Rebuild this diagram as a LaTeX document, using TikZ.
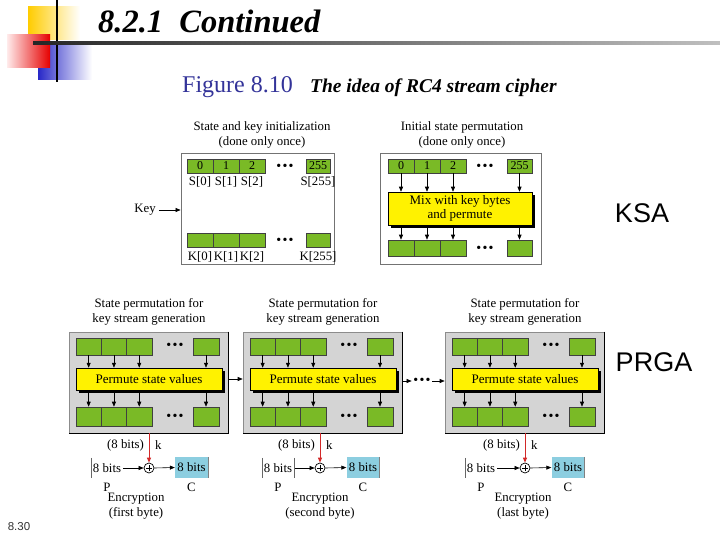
\documentclass[tikz,border=0pt]{standalone}
\usepackage{fontspec}
\setmainfont{Liberation Serif}
\newfontfamily\arialf{Liberation Sans}
\usetikzlibrary{arrows.meta,shadows,calc}
\definecolor{cellgreen}{RGB}{122,186,38}
\definecolor{boxgray}{RGB}{212,212,212}
\definecolor{cblue}{RGB}{140,206,224}
\definecolor{navyc}{RGB}{51,51,153}
\definecolor{keyred}{RGB}{210,40,40}
\definecolor{goldc}{RGB}{255,204,0}
\definecolor{logoblue}{RGB}{40,40,200}
\newcommand\tridots{\textbullet\hspace{1.3pt}\textbullet\hspace{1.3pt}\textbullet}
\begin{document}
\begin{tikzpicture}[x=1pt,y=-1pt,
  txt/.style={font=\fontsize{12.8}{14.5}\selectfont, align=center, inner sep=0pt},
  cell/.style={draw=black!75, line width=0.6pt, fill=cellgreen, inner sep=0pt, font=\fontsize{12}{12}\selectfont},
  mixbox/.style={draw=black, line width=0.5pt, fill=yellow, drop shadow={shadow xshift=3pt,shadow yshift=-3pt,fill=black,opacity=1}, align=center, inner sep=0pt, font=\fontsize{13}{14}\selectfont},
  arr/.style={-{Triangle[length=5pt,width=4pt]}, line width=0.6pt},
  dotsn/.style={inner sep=1.5pt, font=\fontsize{14}{14}\selectfont},
  pbox/.style={draw=black!45, line width=0.6pt, fill=boxgray, minimum width=159pt, minimum height=101pt, inner sep=0pt},
  kbox/.style={draw=black!55, line width=0.8pt, fill=white, inner sep=0pt}
]
\useasboundingbox (0,0) rectangle (720,540);
\fill[white] (0,0) rectangle (720,540);

% logo
\shade[left color=goldc, middle color=goldc!80!white, right color=white] (28,7) rectangle (80,40);
\shade[left color=logoblue, middle color=logoblue!75!white, right color=white] (38,43) rectangle (92,80);
\shade[left color=red!8, right color=red!90!black] (7,35) rectangle (50,68);
\draw[line width=2.5pt] (57,0) -- (57,82);
\shade[left color=black!85, right color=black!25] (33,41.8) rectangle (720,44.2);

% titles
\node[anchor=base west, inner sep=0pt, font=\fontsize{32.5}{32}\selectfont\bfseries\itshape] (ttl) at (98,33) {8.2.1\enspace Continued};
\node[anchor=base west, inner sep=0pt, font=\fontsize{24}{24}\selectfont, text=navyc] (fig) at (182,93) {Figure 8.10};
\node[anchor=base west, inner sep=0pt, font=\fontsize{19.5}{20}\selectfont\bfseries\itshape] (cap) at (310,93) {The idea of RC4 stream cipher};

% KSA box 1
\node[txt] (t1) at (262,135) {State and key initialization\\(done only once)};
\node[kbox, minimum width=153pt, minimum height=111pt] (ksa1) at (257.5,208.5) {};
\node[cell, minimum width=26pt, minimum height=14pt] (s0) at (200,166) {0};
\node[cell, minimum width=26pt, minimum height=14pt] (s1) at (226,166) {1};
\node[cell, minimum width=26pt, minimum height=14pt] (s2) at (252,166) {2};
\node[dotsn] (sd) at (285,167) {\tridots};
\node[cell, minimum width=24pt, minimum height=14pt] (s255) at (318,166) {255};
\node[txt] (ls0) at (200,182) {S[0]};
\node[txt] (ls1) at (226,182) {S[1]};
\node[txt] (ls2) at (252,182) {S[2]};
\node[txt] (ls255) at (318,182) {S[255]};
\node[cell, minimum width=26pt, minimum height=14pt] (k0) at (200,240) {};
\node[cell, minimum width=26pt, minimum height=14pt] (k1) at (226,240) {};
\node[cell, minimum width=26pt, minimum height=14pt] (k2) at (252,240) {};
\node[dotsn] (kd) at (285,241) {\tridots};
\node[cell, minimum width=24pt, minimum height=14pt] (k255) at (318,240) {};
\node[txt] (lk0) at (200,256.5) {K[0]};
\node[txt] (lk1) at (226,256.5) {K[1]};
\node[txt] (lk2) at (252,256.5) {K[2]};
\node[txt] (lk255) at (318,256.5) {K[255]};
\node[txt] (key) at (145,210) {Key};
\draw[arr] ([xshift=3pt]key.east) -- (key.east -| ksa1.west);

% KSA box 2
\node[txt] (t2) at (462,135) {Initial state permutation\\(done only once)};
\node[kbox, minimum width=161pt, minimum height=111pt] (ksa2) at (460.5,208.5) {};
\node[cell, minimum width=26pt, minimum height=14pt] (a0) at (401,166) {0};
\node[cell, minimum width=26pt, minimum height=14pt] (a1) at (427,166) {1};
\node[cell, minimum width=26pt, minimum height=14pt] (a2) at (453,166) {2};
\node[dotsn] (ad) at (485,167) {\tridots};
\node[cell, minimum width=25pt, minimum height=14pt] (a255) at (519.5,166) {255};
\node[mixbox, minimum width=144pt, minimum height=33pt] (mix) at (460,208.5) {Mix with key bytes\\and permute};
\node[cell, minimum width=26pt, minimum height=16pt] (b0) at (401,248) {};
\node[cell, minimum width=26pt, minimum height=16pt] (b1) at (427,248) {};
\node[cell, minimum width=26pt, minimum height=16pt] (b2) at (453,248) {};
\node[dotsn] (bd) at (485,249) {\tridots};
\node[cell, minimum width=25pt, minimum height=16pt] (b255) at (519.5,248) {};
\foreach \n in {0,1,2,255}{
  \draw[arr] (a\n.south) -- (mix.north -| a\n.south);
  \draw[arr] (mix.south -| b\n.north) -- (b\n.north);
}
\node[font=\arialf\fontsize{27}{27}\selectfont, inner sep=0pt] (ksa) at (642,213) {KSA};

% PRGA boxes
\foreach \i/\x in {1/69,2/243,3/445}{
  \node[txt] (pt\i) at (\x+80,312) {State permutation for\\key stream generation};
  \node[pbox] (pb\i) at (\x+79.5,382.5) {};
  \draw[line width=1.2pt] (pb\i.north east) -- (pb\i.south east) -- (pb\i.south west);
  \node[cell, minimum width=25.3pt, minimum height=17pt] (u\i1) at (\x+19.65,346.5) {};
  \node[cell, minimum width=25.3pt, minimum height=17pt] (u\i2) at (\x+44.95,346.5) {};
  \node[cell, minimum width=25.3pt, minimum height=17pt] (u\i3) at (\x+70.25,346.5) {};
  \node[dotsn] (ud\i) at (\x+106,346) {\tridots};
  \node[cell, minimum width=26pt, minimum height=17pt] (u\i4) at (\x+137,346.5) {};
  \node[mixbox, minimum width=146pt, minimum height=22pt] (y\i) at (\x+80,379) {Permute state values};
  \node[cell, minimum width=25.3pt, minimum height=19pt] (l\i1) at (\x+19.65,416.5) {};
  \node[cell, minimum width=25.3pt, minimum height=19pt] (l\i2) at (\x+44.95,416.5) {};
  \node[cell, minimum width=25.3pt, minimum height=19pt] (l\i3) at (\x+70.25,416.5) {};
  \node[dotsn] (ld\i) at (\x+106,417) {\tridots};
  \node[cell, minimum width=26pt, minimum height=19pt] (l\i4) at (\x+137,416.5) {};
  \foreach \j in {1,2,3,4}{
    \draw[arr] (u\i\j.south) -- (y\i.north -| u\i\j.south);
    \draw[arr] (y\i.south -| l\i\j.north) -- (l\i\j.north);
  }
}
\draw[arr] (pb1.east |- y1.center) -- (pb2.west |- y1.center);
\node[dotsn] (md) at (422,381) {\tridots};
\draw[arr] (pb2.east |- md.center) -- (md.west);
\draw[arr] (md.east) -- (pb3.west |- md.center);
\node[font=\arialf\fontsize{27}{27}\selectfont, inner sep=0pt] (prga) at (654,362) {PRGA};

% encryption
\foreach \i/\kx/\px/\cx/\ex/\lab in {1/149/107/191.5/136/first byte,2/320/278/363/320/second byte,3/525/481/568/523/last byte}{
  \node[draw, circle, minimum size=10pt, inner sep=0pt, line width=0.7pt] (x\i) at (\kx,468) {};
  \draw[line width=0.7pt] ([yshift=-3.2pt]x\i.center) -- ([yshift=3.2pt]x\i.center) ([xshift=-3.2pt]x\i.center) -- ([xshift=3.2pt]x\i.center);
  \draw[arr, keyred, line width=1pt] (pb\i.south -| x\i.north) -- (x\i.north);
  \node[txt, anchor=east] (kb\i) at (\kx-5,445) {(8 bits)};
  \node[txt, anchor=west] (kk\i) at (\kx+6,445) {k};
  \node[txt, minimum width=32pt, minimum height=20pt] (p\i) at (\px,468) {8 bits};
  \draw[black!60, line width=0.6pt] (p\i.north west) -- (p\i.south west);
  \draw[arr] (p\i.east) -- (x\i.west);
  \node[txt, fill=cblue, minimum width=33pt, minimum height=21pt] (c\i) at (\cx,467.5) {8 bits};
  \draw[black!50, line width=0.6pt] (c\i.north east) -- (c\i.south east);
  \draw[arr] (x\i.east) -- (c\i.west);
  \node[txt] (pl\i) at (\px,487) {P};
  \node[txt] (cl\i) at (\cx,487) {C};
  \node[txt] (e\i) at (\ex,506) {Encryption\\(\lab)};
}
\draw[black!60, line width=0.6pt] (p2.north east) -- (p2.south east);

\node[font=\arialf\fontsize{11.5}{11.5}\selectfont, text=black!80, inner sep=0pt] (pg) at (19,527) {8.30};
\end{tikzpicture}
\end{document}
